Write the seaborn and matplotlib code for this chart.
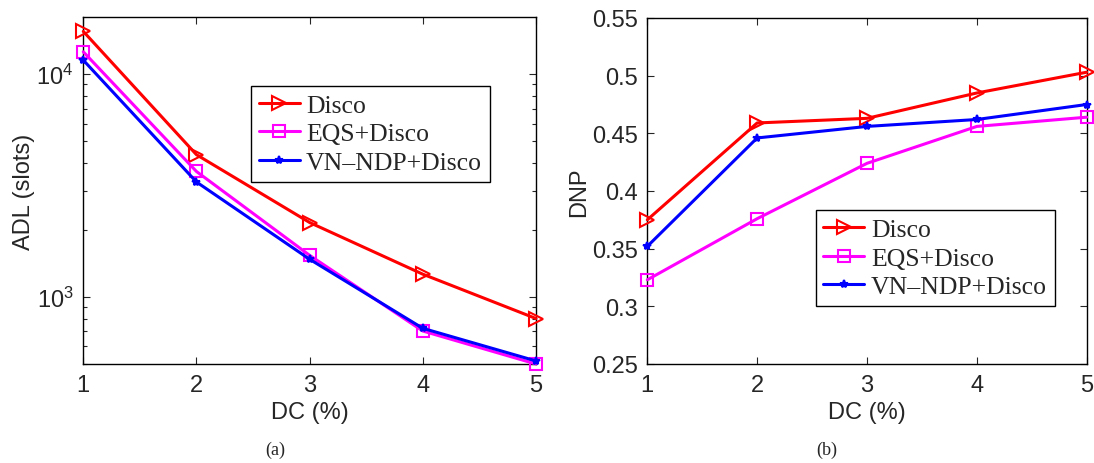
import numpy as np
import pandas as pd
import matplotlib
matplotlib.use("Agg")
import matplotlib.pyplot as plt
import seaborn as sns

dc = [1, 2, 3, 4, 5]
series = ["Disco", "EQS+Disco", "VN\u2013NDP+Disco"]
adl_disco = [15560, 4350, 2158, 1265, 800]
adl_eqs = [12600, 3657, 1537, 703, 500]
adl_vn = [11560, 3281, 1476, 723, 516]
dnp_disco = [0.375, 0.459, 0.463, 0.485, 0.503]
dnp_eqs = [0.323, 0.376, 0.424, 0.456, 0.464]
dnp_vn = [0.352, 0.446, 0.456, 0.462, 0.475]

colors = ["#ff0000", "#ff00ff", "#0000ff"]
markers = [">", "s", "*"]
msizes = [10, 8, 6]

sns.set_style("ticks")
plt.rcParams["font.family"] = ["Liberation Sans", "DejaVu Sans"]
plt.rcParams["mathtext.fontset"] = "custom"
plt.rcParams["mathtext.rm"] = "Liberation Sans"

fig = plt.figure(figsize=(10.94, 4.64), dpi=100)
ax1 = fig.add_axes([83.3 / 1094, 99 / 464, 452.7 / 1094, 346.7 / 464])
ax2 = fig.add_axes([647.3 / 1094, 99 / 464, 439.4 / 1094, 346 / 464])

def draw(ax, vals):
    for name, v, c, m, ms in zip(series, vals, colors, markers, msizes):
        df = pd.DataFrame({"DC": dc, "val": v})
        fill = c if m == "*" else "none"
        sns.lineplot(data=df, x="DC", y="val", ax=ax, color=c, lw=2.2,
                     marker=m, markersize=ms, markerfacecolor=fill,
                     markeredgecolor=c, markeredgewidth=1.5, label=name,
                     clip_on=False, zorder=3)

draw(ax1, [adl_disco, adl_eqs, adl_vn])
draw(ax2, [dnp_disco, dnp_eqs, dnp_vn])

ax1.set_yscale("log")
ax1.set_ylim(500, 18000)
ax2.set_ylim(0.25, 0.55)
ax2.set_yticks([0.25, 0.3, 0.35, 0.4, 0.45, 0.5, 0.55])
ax2.set_yticklabels(["0.25", "0.3", "0.35", "0.4", "0.45", "0.5", "0.55"])

for ax, ylab, lpos in [(ax1, "ADL (slots)", (0.370, 0.526)), (ax2, "DNP", (0.383, 0.168))]:
    ax.set_xlim(1, 5)
    ax.set_xticks(dc)
    ax.set_xlabel("DC (%)", fontsize=17, labelpad=4)
    ax.set_ylabel(ylab, fontsize=17, labelpad=1)
    ax.tick_params(direction="in", top=True, right=True, labelsize=17,
                   length=5, width=0.8, which="major", pad=7)
    ax.tick_params(direction="in", top=True, right=True, which="minor",
                   length=3, width=0.8)
    for s in ax.spines.values():
        s.set_color("black")
        s.set_linewidth(1.0)
    leg = ax.legend(loc="lower left", bbox_to_anchor=lpos, fancybox=False,
                    edgecolor="black", framealpha=1,
                    prop={"family": "Liberation Serif", "size": 18.5},
                    handlelength=1.6, handletextpad=0.25, borderpad=0.3,
                    labelspacing=0.22, borderaxespad=0)
    leg.get_frame().set_linewidth(1.0)

fig.text(275 / 1094, 1 - 450 / 464, "(a)", ha="center", va="center",
         fontsize=13, family="Liberation Serif")
fig.text(827 / 1094, 1 - 450 / 464, "(b)", ha="center", va="center",
         fontsize=13, family="Liberation Serif")

fig.savefig("out.png", dpi=100)
